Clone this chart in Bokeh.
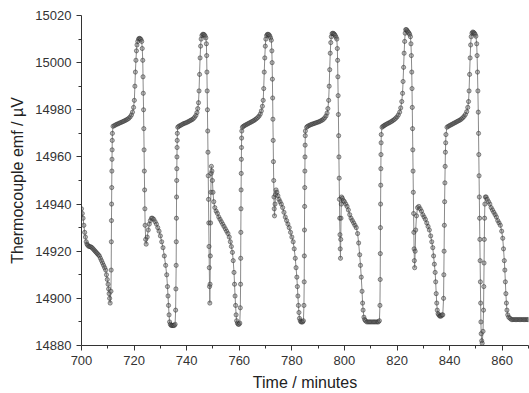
from bokeh.plotting import figure
from bokeh.models import Range1d, FixedTicker
from bokeh.embed import file_html
from bokeh.resources import INLINE

# (time / minutes, emf / uV), one list per cycle
cycle_0 = [(700.0,14938),(700.3,14936),(700.6,14934),(700.9,14931),(701.2,14928),(701.5,14926),(701.8,14924),(702.1,14923),
           (702.4,14922.5),(702.8,14922),(703.2,14922),(703.6,14921.8),(704.0,14921.5),(704.4,14921),(704.8,14920.5),(705.2,14920),
           (705.6,14919.5),(706.0,14919),(706.4,14918.5),(706.8,14918),(707.2,14917),(707.6,14916),(708.0,14915),(708.4,14914),
           (708.8,14913),(709.2,14912),(709.5,14910),(709.8,14908),(710.1,14906),(710.3,14904),(710.5,14902),(710.7,14900),(710.9,14898),
           (711.2,14903),(711.3,14912),(711.35,14924),(711.4,14933),(711.45,14940),(711.5,14947),(711.55,14954),(711.6,14959),
           (711.65,14963),(711.7,14967),(711.75,14970)]

cycle_1 = [(712.0,14973),(712.5,14973.3),(713.0,14973.6),(713.5,14973.9),(714.0,14974.1),(714.5,14974.4),(715.0,14974.6),(715.5,14974.9),
           (716.0,14975.1),(716.5,14975.4),(717.0,14975.7),(717.5,14976),(718.0,14976.4),(718.5,14977),(719.0,14977.8),(719.4,14979),
           (719.8,14981),(720.1,14984),(720.3,14990),(720.5,14996),(720.7,15001),(720.9,15005),(721.1,15007.5),(721.4,15009),
           (721.7,15010),(722.0,15010.3),(722.3,15010.2),(722.6,15009.8),(722.9,15009),(723.1,15006),(723.3,15001),(723.4,14994),
           (723.5,14987),(723.6,14980),(723.7,14972),(723.8,14963),(723.9,14954),(724.0,14946),(724.1,14938),(724.2,14931),
           (724.4,14925),(724.6,14923),(725.0,14926),(725.4,14929),(725.8,14931.5),(726.2,14933),(726.6,14934),(727.0,14934),
           (727.5,14933.5),(728.0,14932.5),(728.5,14931.5),(729.0,14930),(729.5,14928.5),(730.0,14926.5),(730.5,14924),(731.0,14921.5),
           (731.5,14918),(732.0,14914),(732.4,14910),(732.7,14905),(732.9,14901),(733.1,14897),(733.3,14893),(733.5,14890),
           (733.8,14889),(734.1,14888.5),(734.4,14888.5),(734.7,14888.5),(735.0,14888.5),(735.3,14888.5),(735.6,14889),
           (735.8,14895),(735.9,14904),(736.0,14914),(736.05,14924),(736.1,14934),(736.15,14943),(736.2,14950),(736.25,14955),
           (736.3,14960),(736.35,14964),(736.4,14967),(736.45,14970)]

cycle_2 = [(736.6,14972.6),(737.0,14973),(737.5,14973.3),(738.0,14973.6),(738.5,14973.9),(739.0,14974.2),(739.5,14974.4),(740.0,14974.6),
           (740.5,14974.9),(741.0,14975.2),(741.5,14975.5),(742.0,14975.8),(742.5,14976.2),(743.0,14976.8),(743.5,14977.6),(743.9,14978.8),
           (744.2,14980.5),(744.5,14983),(744.7,14988),(744.9,14995),(745.1,15002),(745.3,15007),(745.5,15010),(745.8,15011.5),
           (746.1,15012),(746.4,15012),(746.7,15011.8),(747.0,15011.3),(747.3,15010.5),(747.5,15008),(747.6,15003),(747.7,14996),
           (747.8,14988),(747.9,14980),(748.0,14971),(748.1,14962),(748.2,14952),(748.3,14942),(748.4,14932),(748.5,14922),
           (748.6,14913),(748.7,14905),(748.8,14898),(748.9,14906),(749.0,14918),(749.1,14932),(749.2,14945),(749.3,14953),
           (749.4,14956),(749.6,14954),(749.8,14950),(750.0,14945),(750.3,14941),(750.7,14938.5),(751.2,14937),(751.7,14936),
           (752.2,14934.5),(752.7,14933.5),(753.2,14932.5),(753.7,14931.5),(754.2,14930.5),(754.7,14929.5),(755.2,14928.5),(755.7,14927.5),
           (756.2,14926),(756.6,14924),(757.0,14922),(757.4,14919.5),(757.7,14916),(758.0,14911),(758.2,14906),(758.4,14901),
           (758.6,14897),(758.8,14893),(759.0,14890.5),(759.3,14889.5),(759.6,14889),(759.9,14889),(760.2,14889.5),
           (760.4,14896),(760.5,14906),(760.55,14917),(760.6,14928),(760.65,14938),(760.7,14946),(760.75,14953),(760.8,14959),
           (760.85,14964),(760.9,14968),(760.95,14971)]

cycle_3 = [(761.2,14972.6),(761.6,14973),(762.0,14973.3),(762.5,14973.6),(763.0,14973.9),(763.5,14974.2),(764.0,14974.5),(764.5,14974.8),
           (765.0,14975.1),(765.5,14975.4),(766.0,14975.8),(766.5,14976.2),(767.0,14976.7),(767.5,14977.3),(768.0,14978.2),(768.4,14979.5),
           (768.8,14981.5),(769.1,14984),(769.3,14989),(769.5,14996),(769.7,15002),(769.9,15007),(770.1,15010),(770.4,15011.5),
           (770.7,15012),(771.0,15012),(771.3,15011.8),(771.6,15011.3),(771.9,15010.5),(772.2,15009.5),(772.4,15005),(772.5,15000),
           (772.6,14993),(772.7,14985),(772.8,14976),(772.9,14967),(773.0,14958),(773.1,14950),(773.2,14943),(773.3,14938),
           (773.4,14935),(773.6,14940),(773.8,14944),(774.0,14946),(774.3,14945),(774.7,14943.5),(775.1,14942),(775.5,14941),
           (776.0,14940),(776.5,14938.5),(777.0,14936.5),(777.5,14934.5),(778.0,14933),(778.5,14931.5),(779.0,14930),(779.5,14928),
           (780.0,14926),(780.5,14924),(780.9,14921),(781.3,14917),(781.6,14913),(781.9,14909),(782.1,14905),(782.3,14901),
           (782.5,14897),(782.7,14894),(782.9,14891.5),(783.2,14890.5),(783.5,14890),(783.8,14890),(784.1,14890),(784.4,14890.5),
           (784.6,14897),(784.7,14907),(784.75,14918),(784.8,14929),(784.85,14939),(784.9,14947),(784.95,14954),(785.0,14960),
           (785.05,14965),(785.1,14969),(785.15,14971)]

cycle_4 = [(785.6,14972.6),(786.0,14973),(786.5,14973.3),(787.0,14973.6),(787.5,14973.8),(788.0,14974),(788.5,14974.2),(789.0,14974.4),
           (789.5,14974.6),(790.0,14974.8),(790.5,14975),(791.0,14975.3),(791.5,14975.6),(792.0,14976),(792.5,14976.6),(793.0,14977.4),
           (793.4,14978.6),(793.7,14980.5),(794.0,14984),(794.2,14990),(794.4,14997),(794.6,15004),(794.8,15008.5),(795.0,15011),
           (795.3,15012.3),(795.6,15012.5),(795.9,15012.3),(796.2,15012),(796.5,15011.5),(796.8,15010.8),(797.1,15010),(797.3,15006),
           (797.4,15001),(797.5,14994),(797.6,14986),(797.7,14978),(797.8,14969),(797.9,14960),(798.0,14951),(798.1,14942),
           (798.2,14934),(798.3,14927),(798.4,14921),(798.5,14917),(798.6,14925),(798.7,14934),(798.8,14940),(798.9,14943),
           (799.2,14942.5),(799.6,14941.5),(800.0,14941),(800.5,14940),(801.0,14939),(801.5,14937.5),(802.0,14935.5),(802.5,14934),
           (803.0,14933),(803.5,14932),(804.0,14931),(804.5,14930),(805.0,14927.5),(805.4,14923.5),(805.8,14918.5),(806.1,14914),
           (806.4,14909),(806.7,14903),(806.9,14898),(807.1,14895),(807.4,14892),(807.7,14891),(808.0,14890.5),(808.5,14890),
           (809.0,14890),(809.5,14890),(810.0,14890),(810.5,14890),(811.0,14890),(811.5,14890),(812.0,14890),(812.5,14890),
           (812.9,14890),(813.3,14890.5),(813.5,14897),(813.6,14908),(813.65,14919),(813.7,14930),(813.75,14940),(813.8,14948),
           (813.85,14955),(813.9,14961),(813.95,14966),(814.0,14969.5)]

cycle_5 = [(814.3,14972.6),(814.7,14973),(815.1,14973.3),(815.5,14973.6),(816.0,14973.9),(816.5,14974.2),(817.0,14974.5),(817.5,14974.8),
           (818.0,14975.1),(818.5,14975.5),(819.0,14975.9),(819.5,14976.4),(820.0,14977),(820.5,14977.8),(821.0,14979),(821.4,14980.8),
           (821.8,14983.5),(822.1,14987),(822.3,14992),(822.5,14998),(822.7,15004),(822.9,15009),(823.1,15012.5),(823.3,15014),
           (823.6,15014),(823.9,15013.5),(824.2,15013),(824.5,15012.6),(824.8,15012),(825.1,15011),(825.3,15008),(825.45,15003),
           (825.6,14996),(825.7,14989),(825.8,14981),(825.9,14972),(826.0,14963),(826.1,14954),(826.2,14945),(826.3,14936),
           (826.4,14928),(826.5,14921),(826.6,14916),(826.7,14913),(826.9,14920),(827.1,14929),(827.4,14935),(827.8,14938.5),
           (828.3,14939),(828.8,14938),(829.3,14937),(829.8,14935.5),(830.3,14934.5),(830.8,14933.5),(831.3,14932),(831.8,14930.5),
           (832.3,14929),(832.8,14926.5),(833.2,14924),(833.6,14921.5),(833.9,14918),(834.2,14914.5),(834.5,14911),(834.7,14907),
           (834.9,14902),(835.1,14898),(835.3,14895),(835.6,14893.5),(835.9,14893),(836.2,14892.5),(836.5,14892.5),(836.8,14892.5),
           (837.1,14893),(837.4,14893),(837.7,14900),(837.8,14910),(837.9,14920),(838.0,14931),(838.1,14941),(838.2,14949),
           (838.3,14956),(838.4,14962),(838.5,14966),(838.6,14969.5)]

cycle_6 = [(839.0,14972.6),(839.5,14973),(840.0,14973.3),(840.5,14973.6),(841.0,14973.9),(841.5,14974.2),(842.0,14974.5),(842.5,14974.8),
           (843.0,14975.1),(843.5,14975.4),(844.0,14975.7),(844.5,14976.1),(845.0,14976.6),(845.5,14977.2),(846.0,14978),(846.5,14979.2),
           (846.9,14981),(847.2,14983.5),(847.4,14988),(847.6,14995),(847.8,15002),(848.0,15007.5),(848.2,15011),(848.5,15012.5),
           (848.8,15013),(849.1,15012.8),(849.4,15012.5),(849.7,15012),(850.0,15011.2),(850.3,15008),(850.45,15003),(850.6,14996),
           (850.75,14988),(850.9,14979),(851.0,14970),(851.1,14961),(851.2,14952),(851.3,14943),(851.4,14934),(851.5,14925),
           (851.6,14916),(851.7,14907),(851.8,14898),(851.9,14890),(852.0,14885),(852.2,14882),(852.4,14881),(852.7,14886),
           (852.9,14895),(853.0,14905),(853.1,14915),(853.2,14925),(853.3,14934),(853.4,14940),(853.6,14943),(853.9,14943),
           (854.3,14942),(854.8,14941),(855.3,14940),(855.8,14938.5),(856.3,14937.5),(856.8,14936.5),(857.3,14935.5),(857.8,14934.5),
           (858.3,14933),(858.8,14932),(859.3,14931),(859.8,14928.5),(860.2,14925.5),(860.5,14921),(860.8,14916),(861.0,14912),
           (861.2,14907),(861.4,14902),(861.6,14898),(861.8,14895),(862.1,14893),(862.5,14892),(863.0,14891.5),(863.5,14891),
           (864.0,14891),(864.5,14891),(865.0,14891),(865.5,14891),(866.0,14891),(866.5,14891),(867.0,14891),(867.5,14891),
           (868.0,14891),(868.5,14891),(869.0,14891),(869.5,14891),(870.0,14891)]

x_major_ticks = [700, 720, 740, 760, 780, 800, 820, 840, 860]
x_minor_ticks = [710, 730, 750, 770, 790, 810, 830, 850, 870]
y_major_ticks = [14880, 14900, 14920, 14940, 14960, 14980, 15000, 15020]
y_minor_ticks = [14890, 14910, 14930, 14950, 14970, 14990, 15010]

points = cycle_0 + cycle_1 + cycle_2 + cycle_3 + cycle_4 + cycle_5 + cycle_6
time_min = [a for a, b in points]
emf_uv = [b for a, b in points]

p = figure(width=529, height=393, output_backend="svg", toolbar_location=None,
           x_range=Range1d(700, 870), y_range=Range1d(14880, 15020),
           min_border_left=81, min_border_right=1, min_border_top=15, min_border_bottom=48)
p.outline_line_color = None
p.grid.visible = False
p.background_fill_color = "white"

p.line(time_min, emf_uv, line_color="#8a8a8a", line_width=1)
p.scatter(time_min, emf_uv, marker="circle", size=4.2, line_color="#2a2a2a", line_alpha=0.55,
          fill_color="#6a6a6a", fill_alpha=0.45, line_width=0.9)

p.xaxis.ticker = FixedTicker(ticks=x_major_ticks, minor_ticks=x_minor_ticks)
p.yaxis.ticker = FixedTicker(ticks=y_major_ticks, minor_ticks=y_minor_ticks)
p.xaxis.axis_label = "Time / minutes"
p.yaxis.axis_label = "Thermocouple emf / µV"

for ax in (p.xaxis[0], p.yaxis[0]):
    ax.axis_line_color = "#333333"
    ax.major_tick_line_color = "#333333"
    ax.minor_tick_line_color = "#333333"
    ax.major_tick_out = 5
    ax.major_tick_in = 0
    ax.minor_tick_out = 3
    ax.minor_tick_in = 0
    ax.major_label_text_font = "Liberation Sans"
    ax.major_label_text_font_size = "13px"
    ax.major_label_text_color = "#333333"
    ax.major_label_standoff = 5
    ax.axis_label_text_font = "Liberation Sans"
    ax.axis_label_text_font_size = "16px"
    ax.axis_label_text_font_style = "normal"
    ax.axis_label_text_color = "#222222"
    ax.axis_label_standoff = 6

open("out.html", "w").write(file_html(p, INLINE))
